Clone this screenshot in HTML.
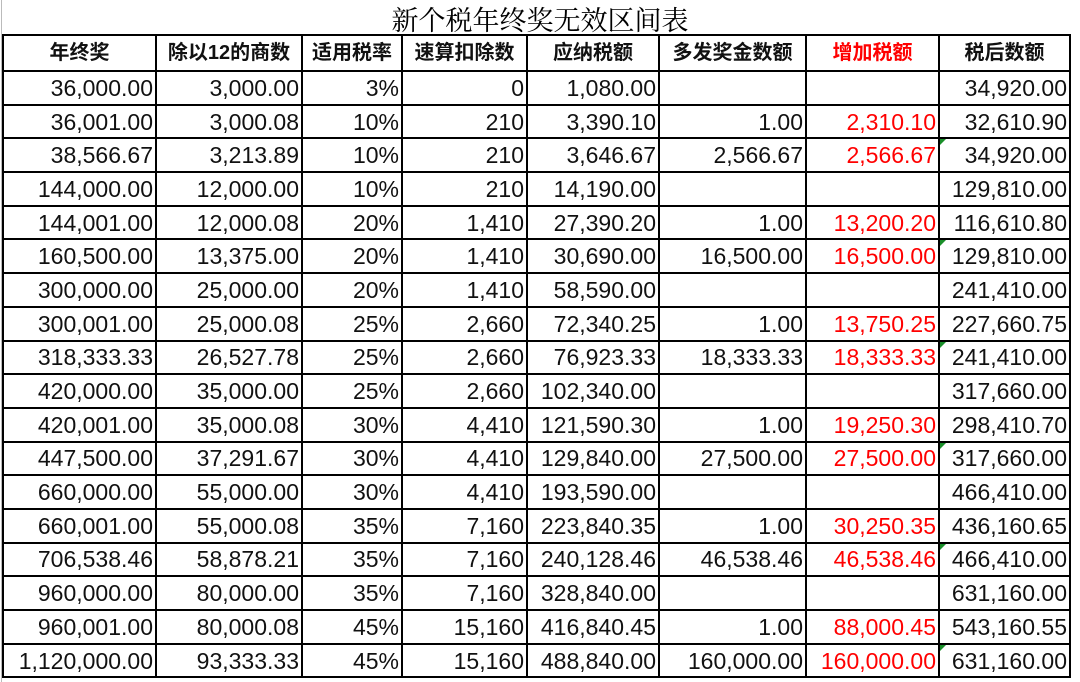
<!DOCTYPE html>
<html><head><meta charset="utf-8"><style>
body{margin:0;width:1080px;height:682px;background:#fff;overflow:hidden;position:relative;font-family:"Liberation Sans","Noto Sans CJK SC",sans-serif;}
.title{position:absolute;left:0;top:0;width:1080px;height:35px;text-align:center;font-family:"Noto Serif CJK SC","Liberation Serif",serif;font-size:27px;line-height:37px;color:#000;}
table{position:absolute;left:2px;top:34px;border-collapse:collapse;table-layout:fixed;}
td{border:2px solid #000;height:31.7px;padding:0 2px 0 0;text-align:right;font-size:23px;line-height:30px;white-space:nowrap;overflow:hidden;color:#111;position:relative}
tr.h td{height:34px;text-align:center;font-weight:bold;font-size:20px;padding:0;}
.r{color:#f00}
.g::before{content:"";position:absolute;left:0;top:0;border-top:6px solid #1a8f2a;border-right:6px solid transparent;}
.lg{position:absolute;left:1px;top:0;width:1px;height:682px;background:#bbb}
</style></head><body>
<div class="lg"></div>
<div class="title">新个税年终奖无效区间表</div>
<table>
<colgroup><col style="width:153px"><col style="width:146px"><col style="width:100px"><col style="width:125px"><col style="width:132px"><col style="width:147px"><col style="width:133px"><col style="width:131px"></colgroup>
<tr class="h"><td>年终奖</td><td>除以12的商数</td><td>适用税率</td><td>速算扣除数</td><td>应纳税额</td><td>多发奖金数额</td><td class="r">增加税额</td><td>税后数额</td></tr>
<tr><td>36,000.00</td><td>3,000.00</td><td>3%</td><td>0</td><td>1,080.00</td><td></td><td></td><td>34,920.00</td></tr>
<tr><td>36,001.00</td><td>3,000.08</td><td>10%</td><td>210</td><td>3,390.10</td><td>1.00</td><td class="r">2,310.10</td><td>32,610.90</td></tr>
<tr><td>38,566.67</td><td>3,213.89</td><td>10%</td><td>210</td><td>3,646.67</td><td>2,566.67</td><td class="r">2,566.67</td><td class="g">34,920.00</td></tr>
<tr><td>144,000.00</td><td>12,000.00</td><td>10%</td><td>210</td><td>14,190.00</td><td></td><td></td><td>129,810.00</td></tr>
<tr><td>144,001.00</td><td>12,000.08</td><td>20%</td><td>1,410</td><td>27,390.20</td><td>1.00</td><td class="r">13,200.20</td><td>116,610.80</td></tr>
<tr><td>160,500.00</td><td>13,375.00</td><td>20%</td><td>1,410</td><td>30,690.00</td><td>16,500.00</td><td class="r">16,500.00</td><td class="g">129,810.00</td></tr>
<tr><td>300,000.00</td><td>25,000.00</td><td>20%</td><td>1,410</td><td>58,590.00</td><td></td><td></td><td>241,410.00</td></tr>
<tr><td>300,001.00</td><td>25,000.08</td><td>25%</td><td>2,660</td><td>72,340.25</td><td>1.00</td><td class="r">13,750.25</td><td>227,660.75</td></tr>
<tr><td>318,333.33</td><td>26,527.78</td><td>25%</td><td>2,660</td><td>76,923.33</td><td>18,333.33</td><td class="r">18,333.33</td><td class="g">241,410.00</td></tr>
<tr><td>420,000.00</td><td>35,000.00</td><td>25%</td><td>2,660</td><td>102,340.00</td><td></td><td></td><td>317,660.00</td></tr>
<tr><td>420,001.00</td><td>35,000.08</td><td>30%</td><td>4,410</td><td>121,590.30</td><td>1.00</td><td class="r">19,250.30</td><td>298,410.70</td></tr>
<tr><td>447,500.00</td><td>37,291.67</td><td>30%</td><td>4,410</td><td>129,840.00</td><td>27,500.00</td><td class="r">27,500.00</td><td class="g">317,660.00</td></tr>
<tr><td>660,000.00</td><td>55,000.00</td><td>30%</td><td>4,410</td><td>193,590.00</td><td></td><td></td><td>466,410.00</td></tr>
<tr><td>660,001.00</td><td>55,000.08</td><td>35%</td><td>7,160</td><td>223,840.35</td><td>1.00</td><td class="r">30,250.35</td><td>436,160.65</td></tr>
<tr><td>706,538.46</td><td>58,878.21</td><td>35%</td><td>7,160</td><td>240,128.46</td><td>46,538.46</td><td class="r">46,538.46</td><td class="g">466,410.00</td></tr>
<tr><td>960,000.00</td><td>80,000.00</td><td>35%</td><td>7,160</td><td>328,840.00</td><td></td><td></td><td>631,160.00</td></tr>
<tr><td>960,001.00</td><td>80,000.08</td><td>45%</td><td>15,160</td><td>416,840.45</td><td>1.00</td><td class="r">88,000.45</td><td>543,160.55</td></tr>
<tr><td>1,120,000.00</td><td>93,333.33</td><td>45%</td><td>15,160</td><td>488,840.00</td><td>160,000.00</td><td class="r">160,000.00</td><td class="g">631,160.00</td></tr>
</table>
</body></html>
